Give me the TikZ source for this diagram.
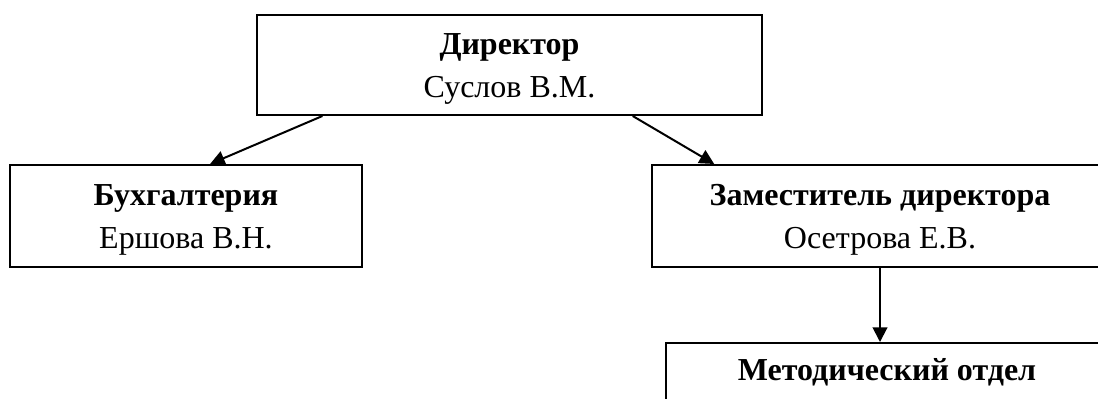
\documentclass[tikz,border=0pt]{standalone}
\usepackage{fontspec}
\setmainfont{Liberation Serif}
\usetikzlibrary{arrows.meta,calc}
\newcommand{\highstrut}{\rule{0pt}{21.5pt}}
\begin{document}
\begin{tikzpicture}[x=0.75pt,y=-0.75pt,
  box/.style={draw=black,line width=1.5pt,rectangle,inner sep=0pt,align=center,
    font=\fontsize{24}{32}\selectfont},
  arr/.style={line width=1.5pt,-{Triangle[length=11pt,width=11pt]}}]
\useasboundingbox (0,0) rectangle (1098,399);
\begin{scope}
\clip (0,0) rectangle (1098,399);
\node[box,minimum width=505*0.75pt,minimum height=100*0.75pt] (dir) at (509.5,65)
  {\highstrut\textbf{Директор}\\Суслов В.М.};
\node[box,minimum width=352*0.75pt,minimum height=102*0.75pt] (buh) at (186,216)
  {\highstrut\textbf{Бухгалтерия}\\Ершова В.Н.};
\node[box,minimum width=456*0.75pt,minimum height=102*0.75pt] (zam) at (880,216)
  {\highstrut\textbf{Заместитель директора}\\Осетрова Е.В.};
\node[box,minimum width=442*0.75pt,minimum height=102*0.75pt] (met) at (887,394)
  {\highstrut\textbf{Методический отдел}\\\strut};
\end{scope}
\draw[arr] ($(dir.south west)!0.131!(dir.south east)$) -- ($(buh.north west)!0.568!(buh.north east)$);
\draw[arr] ($(dir.south west)!0.743!(dir.south east)$) -- ($(zam.north west)!0.138!(zam.north east)$);
\draw[arr] (zam.south) -- (met.north -| zam.south);
\end{tikzpicture}
\end{document}
